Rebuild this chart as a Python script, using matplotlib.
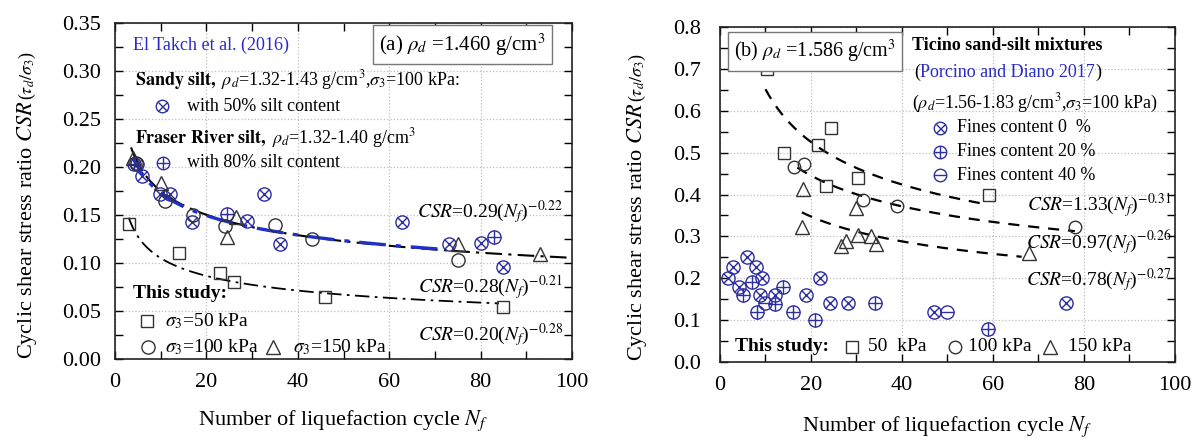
import numpy as np
import matplotlib
matplotlib.use('Agg')
import matplotlib.pyplot as plt
from matplotlib.ticker import MultipleLocator

plt.rcParams['font.family'] = ['Liberation Serif', 'DejaVu Serif']
plt.rcParams['mathtext.fontset'] = 'stix'

BLUE = '#2e2ea0'
TXT_BLUE = '#2a2ac8'
LINE_BLUE = '#1f2fc8'

# ---- (a) rho_d = 1.460 g/cm3 ----
a_s50_n = [3, 14, 23, 26, 46, 85]
a_s50_csr = [0.140, 0.110, 0.090, 0.080, 0.065, 0.054]
a_s100_n = [4.5, 11, 17, 24, 35, 43, 75]
a_s100_csr = [0.204, 0.164, 0.150, 0.138, 0.139, 0.125, 0.103]
a_s150_n = [4, 10, 26.5, 24.5, 75, 93]
a_s150_csr = [0.209, 0.183, 0.148, 0.127, 0.120, 0.109]
# El Takch et al. (2016)
sandy_n = [4.7, 5.8, 9.8, 12, 16.8, 28.8, 32.6, 36, 62.7, 73, 80, 85]
sandy_csr = [0.203, 0.190, 0.172, 0.172, 0.143, 0.144, 0.172, 0.120, 0.143, 0.120, 0.121, 0.096]
fraser_n = [4.2, 24.4, 83]
fraser_csr = [0.203, 0.151, 0.127]

# power fits CSR = a * N^b, drawn over [n0, n1]
a_fit_coef = [0.29, 0.28, 0.20]
a_fit_exp = [-0.22, -0.21, -0.28]
a_fit_range = [(3.5, 100), (4, 72), (3, 84)]

# ---- (b) rho_d = 1.586 g/cm3 ----
b_s50_n = [10.3, 14.1, 21.5, 24.4, 23.3, 30.4, 59.2]
b_s50_csr = [0.700, 0.500, 0.518, 0.560, 0.420, 0.440, 0.400]
b_s100_n = [16.3, 18.5, 31.5, 39, 78]
b_s100_csr = [0.465, 0.474, 0.387, 0.373, 0.322]
b_s150_n = [18.2, 30, 18.1, 26.6, 27.6, 30.4, 33.2, 34.4, 67.9]
b_s150_csr = [0.413, 0.367, 0.323, 0.277, 0.290, 0.303, 0.300, 0.282, 0.261]
# Porcino and Diano 2017
fc0_n = [1.8, 2.9, 4.2, 5.9, 7.9, 9.2, 8.8, 12.1, 18.9, 22, 24.2, 28.1, 47, 76]
fc0_csr = [0.200, 0.228, 0.180, 0.250, 0.226, 0.200, 0.160, 0.160, 0.160, 0.200, 0.140, 0.140, 0.120, 0.140]
fc20_n = [5.1, 7, 8.1, 12.1, 13.9, 16, 20.9, 34, 59]
fc20_csr = [0.160, 0.190, 0.120, 0.138, 0.180, 0.120, 0.100, 0.140, 0.080]
fc40_n = [9.9, 50]
fc40_csr = [0.140, 0.120]

b_fit_coef = [1.33, 0.97, 0.78]
b_fit_exp = [-0.31, -0.26, -0.27]
b_fit_range = [(10, 57.5), (17, 78), (18, 66.3)]


def ring(ax, x, y, inner, color, ms, **kw):
  """Open circle with an optional symbol drawn inside it."""
  ax.plot(x, y, ls='none', marker='o', ms=ms, mfc='none', mec=color, mew=1.0, **kw)
  if inner is not None:
    scale = 0.72 if inner == 'x' else 1.0
    ax.plot(x, y, ls='none', marker=inner, ms=ms * scale, mec=color, mew=1.0, **kw)


def open_marker(ax, x, y, marker, ms, **kw):
  ax.plot(x, y, ls='none', marker=marker, ms=ms, mfc='none', mec='#333333', mew=1.0, **kw)


def power(rng, a, b):
  n = np.linspace(rng[0], rng[1], 200)
  return n, a * n ** b


def style(ax, ymax, ymajor, yminor, ypad):
  ax.set_xlim(0, 100)
  ax.set_ylim(0, ymax)
  ax.xaxis.set_major_locator(MultipleLocator(20))
  ax.xaxis.set_minor_locator(MultipleLocator(10))
  ax.yaxis.set_major_locator(MultipleLocator(ymajor))
  ax.yaxis.set_minor_locator(MultipleLocator(yminor))
  ax.tick_params(which='both', direction='in', top=True, right=True,
                 labelsize=16, width=1, length=6)
  ax.tick_params(axis='x', pad=10)
  ax.tick_params(axis='y', pad=ypad)
  ax.grid(True, which='major', ls=':', color='#bdbdbd', lw=0.9)
  ax.set_axisbelow(True)
  for s in ax.spines.values():
    s.set_linewidth(1.2)
    s.set_color('#222222')


fig = plt.figure(figsize=(11.96, 4.38), dpi=100)
ax1 = fig.add_axes([0.0962, 0.1804, 0.3821, 0.7678])
ax2 = fig.add_axes([0.602, 0.1735, 0.3804, 0.7648])

# ----------------------------------------------------------------- panel (a)
style(ax1, 0.35, 0.05, 0.025, 10)
n, c = power(a_fit_range[0], a_fit_coef[0], a_fit_exp[0])
ax1.plot(n, c, color='black', lw=1.5, ls=(0, (8, 3, 1.5, 3)), clip_on=False)
n, c = power(a_fit_range[2], a_fit_coef[2], a_fit_exp[2])
ax1.plot(n, c, color='black', lw=1.3, ls=(0, (8, 3, 1.5, 3)))
n, c = power(a_fit_range[1], a_fit_coef[1], a_fit_exp[1])
ax1.plot(n, c, color=LINE_BLUE, lw=2.4, ls=(2, (8, 3, 1.5, 3)))

ring(ax1, sandy_n, sandy_csr, 'x', BLUE, 9.5)
ring(ax1, fraser_n, fraser_csr, '+', BLUE, 9.5)
open_marker(ax1, a_s50_n, a_s50_csr, 's', 9)
open_marker(ax1, a_s100_n, a_s100_csr, 'o', 9.5)
open_marker(ax1, a_s150_n, a_s150_csr, '^', 10.5)

T = ax1.transAxes
ax1.text(0.039, 0.934, 'El Takch et al. (2016)', color=TXT_BLUE, fontsize=13,
         va='center', transform=T)
ax1.text(0.578, 0.934, r'(a) $\rho_d$ =1.460 g/cm$^3$', fontsize=15, va='center',
         transform=T, bbox=dict(boxstyle='square,pad=0.3', fc='white', ec='#777777', lw=1))
ax1.text(0.044, 0.83, r'$\mathbf{Sandy\ silt,}$ $\rho_d$=1.32-1.43 g/cm$^3$,$\sigma_3$=100 kPa:',
         fontsize=13, va='center', transform=T)
ring(ax1, [0.103], [0.752], 'x', BLUE, 9, transform=T, clip_on=False)
ax1.text(0.158, 0.752, 'with 50% silt content', fontsize=13, va='center', transform=T)
ax1.text(0.044, 0.657, r'$\mathbf{Fraser\ River\ silt,}$ $\rho_d$=1.32-1.40 g/cm$^3$',
         fontsize=13, va='center', transform=T)
ring(ax1, [0.105], [0.583], '+', BLUE, 9, transform=T, clip_on=False)
ax1.text(0.158, 0.583, 'with 80% silt content', fontsize=13, va='center', transform=T)

ax1.text(0.98, 0.437, r'$CSR$=0.29($N_f$)$^{-0.22}$', fontsize=14, ha='right', va='center', transform=T)
ax1.text(0.98, 0.214, r'$CSR$=0.28($N_f$)$^{-0.21}$', fontsize=14, ha='right', va='center', transform=T)
ax1.text(0.98, 0.071, r'$CSR$=0.20($N_f$)$^{-0.28}$', fontsize=14, ha='right', va='center', transform=T)

ax1.text(0.039, 0.196, 'This study:', fontsize=14, fontweight='bold', va='center', transform=T)
open_marker(ax1, [0.07], [0.113], 's', 9, transform=T, clip_on=False)
ax1.text(0.109, 0.113, r'$\sigma_3$=50 kPa', fontsize=14, va='center', transform=T)
open_marker(ax1, [0.072], [0.036], 'o', 9.5, transform=T, clip_on=False)
ax1.text(0.109, 0.036, r'$\sigma_3$=100 kPa', fontsize=14, va='center', transform=T)
open_marker(ax1, [0.346], [0.036], '^', 10.5, transform=T, clip_on=False)
ax1.text(0.39, 0.036, r'$\sigma_3$=150 kPa', fontsize=14, va='center', transform=T)

ax1.set_xlabel('Number of liquefaction cycle $N_f$', fontsize=16, labelpad=12)

# ----------------------------------------------------------------- panel (b)
style(ax2, 0.8, 0.1, 0.05, 14)
for coef, ex, rng in zip(b_fit_coef, b_fit_exp, b_fit_range):
  n, c = power(rng, coef, ex)
  ax2.plot(n, c, color='black', lw=1.6, ls=(0, (5, 4)))

ring(ax2, fc0_n, fc0_csr, 'x', BLUE, 9.5)
ring(ax2, fc20_n, fc20_csr, '+', BLUE, 9.5)
ring(ax2, fc40_n, fc40_csr, '_', BLUE, 9.5)
open_marker(ax2, b_s50_n, b_s50_csr, 's', 8.5)
open_marker(ax2, b_s100_n, b_s100_csr, 'o', 9)
open_marker(ax2, b_s150_n, b_s150_csr, '^', 10.5)

T = ax2.transAxes
ax2.text(0.03, 0.928, r'(b) $\rho_d$ =1.586 g/cm$^3$', fontsize=14.5, va='center',
         transform=T, bbox=dict(boxstyle='square,pad=0.3', fc='white', ec='#777777', lw=1))
ax2.text(0.422, 0.946, 'Ticino sand-silt mixtures', fontsize=13, fontweight='bold',
         va='center', transform=T)
t1 = ax2.text(0.427, 0.866, '(', fontsize=13, va='center', transform=T)
t2 = ax2.annotate('Porcino and Diano 2017', xy=(1, 0), xycoords=t1, va='bottom',
                  fontsize=13, color=TXT_BLUE)
ax2.annotate(')', xy=(1, 0), xycoords=t2, va='bottom', fontsize=13)
ax2.text(0.422, 0.773, r'($\rho_d$=1.56-1.83 g/cm$^3$,$\sigma_3$=100 kPa)', fontsize=13,
         va='center', transform=T)
for y, inner, lab in [(0.699, 'x', 'Fines content 0  %'),
                      (0.627, '+', 'Fines content 20 %'),
                      (0.558, '_', 'Fines content 40 %')]:
  ring(ax2, [0.484], [y], inner, BLUE, 9, transform=T, clip_on=False)
  ax2.text(0.52, y, lab, fontsize=13, va='center', transform=T)

ax2.text(0.993, 0.469, r'$CSR$=1.33($N_f$)$^{-0.31}$', fontsize=14, ha='right', va='center', transform=T)
ax2.text(0.993, 0.355, r'$CSR$=0.97($N_f$)$^{-0.26}$', fontsize=14, ha='right', va='center', transform=T)
ax2.text(0.993, 0.245, r'$CSR$=0.78($N_f$)$^{-0.27}$', fontsize=14, ha='right', va='center', transform=T)

ax2.text(0.033, 0.045, 'This study:', fontsize=14, fontweight='bold', va='center', transform=T)
open_marker(ax2, [0.29], [0.045], 's', 8.5, transform=T, clip_on=False)
ax2.text(0.325, 0.045, '50  kPa', fontsize=14, va='center', transform=T)
open_marker(ax2, [0.516], [0.045], 'o', 9, transform=T, clip_on=False)
ax2.text(0.545, 0.045, '100 kPa', fontsize=14, va='center', transform=T)
open_marker(ax2, [0.725], [0.045], '^', 10.5, transform=T, clip_on=False)
ax2.text(0.765, 0.045, '150 kPa', fontsize=14, va='center', transform=T)

ax2.set_xlabel('Number of liquefaction cycle $N_f$', fontsize=16, labelpad=14)


# y labels: main part plus a smaller "(tau_d/sigma_3)" appended on top
def ylabel(x, y):
  t = fig.text(x, y, 'Cyclic shear stress ratio $CSR$ ', fontsize=16, rotation=90,
               rotation_mode='anchor', ha='left', va='baseline')
  fig.canvas.draw()
  bb = t.get_window_extent()
  fig.text(x, bb.y1 / fig.bbox.height, r'($\tau_d/\sigma_3$)', fontsize=13, rotation=90,
           rotation_mode='anchor', ha='left', va='baseline')


ylabel(0.0268, 0.18)
ylabel(0.537, 0.175)

fig.savefig('out.png', dpi=100)
